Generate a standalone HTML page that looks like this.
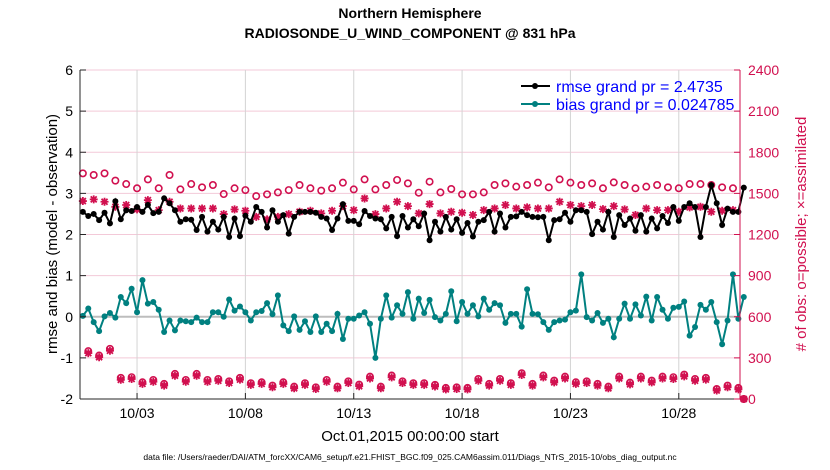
<!DOCTYPE html>
<html><head><meta charset="utf-8"><style>
html,body{margin:0;padding:0;background:#fff;}
svg{display:block;font-family:"Liberation Sans",sans-serif;}
</style></head><body>
<svg id="chart" width="830" height="470" viewBox="0 0 830 470">
<g id="grid"></g>
<g id="series"></g>
<g id="axes"></g>
<text x="410" y="18" text-anchor="middle" font-size="14" font-weight="bold">Northern Hemisphere</text>
<text x="410" y="38" text-anchor="middle" font-size="14" font-weight="bold">RADIOSONDE_U_WIND_COMPONENT @ 831 hPa</text>
<text x="410" y="441" text-anchor="middle" font-size="15">Oct.01,2015 00:00:00 start</text>
<text x="410" y="460" text-anchor="middle" font-size="8.5">data file: /Users/raeder/DAI/ATM_forcXX/CAM6_setup/f.e21.FHIST_BGC.f09_025.CAM6assim.011/Diags_NTrS_2015-10/obs_diag_output.nc</text>
<text transform="translate(57,234) rotate(-90)" text-anchor="middle" font-size="15">rmse and bias (model - observation)</text>
<text transform="translate(806,234) rotate(-90)" text-anchor="middle" font-size="15" fill="#d1104f"># of obs: o=possible; ×=assimilated</text>
<g>
<g><line x1="521" y1="86" x2="550" y2="86" stroke="#000" stroke-width="2"/><circle cx="535" cy="86" r="3" fill="#000"/><text x="556" y="92" font-size="16" fill="#0000ff">rmse grand pr = 2.4735</text></g>
<g><line x1="521" y1="104" x2="550" y2="104" stroke="#008080" stroke-width="2"/><circle cx="535" cy="104" r="3" fill="#008080"/><text x="556" y="110" font-size="16" fill="#0000ff">bias grand pr = 0.024785</text></g>
</g>
</svg>
<script>
const leftTicks=[-2,-1,0,1,2,3,4,5,6];
const rightTicks=[0,300,600,900,1200,1500,1800,2100,2400];
const dayTicks=[2,7,12,17,22,27];
const dayLabels=["10/03","10/08","10/13","10/18","10/23","10/28"];
const rmse=[2.55,2.45,2.50,2.35,2.53,2.27,2.81,2.37,2.59,2.57,2.67,2.55,2.72,2.52,2.55,2.88,2.76,2.59,2.31,2.37,2.36,2.11,2.43,2.07,2.31,2.12,2.43,1.94,2.39,1.96,2.46,
2.31,2.67,2.55,2.17,2.59,2.31,2.47,2.02,2.43,2.55,2.55,2.55,2.53,2.43,2.39,2.11,2.39,2.74,2.33,2.33,2.25,2.57,2.45,2.39,2.37,2.15,2.43,1.96,2.45,2.17,
2.37,2.20,2.51,1.86,2.31,2.07,2.43,2.12,2.37,2.04,2.28,1.95,2.31,2.35,2.55,2.07,2.51,2.17,2.43,2.44,2.55,2.47,2.43,2.42,2.43,1.86,2.35,2.37,2.53,2.31,2.59,
2.59,2.55,2.01,2.31,2.12,2.55,1.94,2.47,2.23,2.39,2.09,2.47,2.07,2.39,2.15,2.45,2.28,2.67,2.33,2.67,2.76,2.67,1.94,2.67,3.2,2.76,2.23,2.63,2.55,2.55,3.14];
const bias=[0.02,0.20,-0.13,-0.35,0.01,0.09,-0.02,0.48,0.33,0.68,0.11,0.89,0.32,0.36,0.17,-0.37,-0.09,-0.33,-0.09,-0.11,-0.13,-0.02,-0.13,-0.13,0.11,0.11,0.0,0.42,0.15,0.25,0.11,
-0.09,0.11,0.14,0.33,0.06,0.52,-0.21,-0.35,0.01,-0.32,-0.11,-0.37,0.01,-0.37,-0.17,-0.35,0.07,-0.54,-0.05,-0.05,0.03,0.11,-0.17,-1.0,-0.05,0.52,-0.02,0.28,0.07,0.60,
-0.05,0.44,0.09,0.41,-0.01,-0.09,0.07,0.62,-0.11,0.36,0.07,0.28,0.01,0.44,0.17,0.33,0.28,-0.15,0.07,0.07,-0.24,0.67,0.07,0.06,-0.13,-0.32,-0.13,-0.09,-0.07,0.11,0.15,
1.03,-0.01,-0.09,0.09,-0.15,-0.05,-0.50,-0.05,0.32,-0.05,0.30,0.03,0.49,-0.09,0.48,0.17,-0.05,0.22,0.24,0.37,-0.46,-0.25,0.29,0.17,0.36,-0.13,-0.67,-0.09,1.03,-0.05,0.48];
const possibleMain=[1646,1634,1646,1593,1568,1537,1602,1537,1634,1529,1568,1544,1561,1495,1537,1524,1480,1493,1507,1524,1561,1537,1520,1537,1578,1529,1602,1529,1561,1598,1573,1505,1585,1507,1532,1493,1493,1507,1561,1573,1549,1561,1578,1544,1602,1578,1561,1573,1537,1580,1561,1537,1549,1561,1544,1537,1568,1568,1561,1544,1537,0];
const possibleOff=[349,317,366,154,159,122,139,110,183,139,183,139,146,129,154,115,122,98,122,90,115,85,139,90,129,105,163,90,171,129,115,115,103,81,85,81,146,110,146,115,188,110,171,134,163,122,129,110,90,163,119,163,134,163,159,178,146,154,73,98,81];
const assimMain=[1444,1456,1439,1402,1415,1383,1451,1378,1439,1390,1390,1390,1390,1349,1383,1373,1329,1310,1329,1349,1366,1373,1354,1373,1407,1378,1463,1349,1390,1439,1407,1354,1422,1354,1366,1359,1342,1378,1390,1415,1390,1398,1390,1390,1439,1415,1407,1415,1385,1407,1383,1342,1390,1378,1378,1366,1398,1402,1366,1373,1378,0];
const assimOff=[335,305,352,140,146,110,126,98,170,126,170,126,133,117,141,103,110,86,110,78,103,73,126,78,117,93,150,78,158,117,103,103,91,70,73,70,133,98,133,103,175,98,158,121,150,110,117,98,78,150,107,150,121,150,146,165,133,141,62,86,70];

const NS='http://www.w3.org/2000/svg';
const L=80,R=740,T=70,B=399;
const yL=v=>B-(v+2)/8*(B-T);
const yR=v=>B-v/2400*(B-T);
const xD=d=>93.7+d*21.67;
const xI=i=>xD(-0.5+0.25*i);
const red='#d1104f';
function mk(tag,attrs,parent){const e=document.createElementNS(NS,tag);for(const k in attrs)e.setAttribute(k,attrs[k]);parent.appendChild(e);return e;}
const grid=document.getElementById('grid'),ser=document.getElementById('series'),ax=document.getElementById('axes');
rightTicks.forEach(t=>{const l=mk('line',{x1:L,x2:R,y1:yR(t),y2:yR(t),stroke:'#f3c9d8','stroke-width':1},grid);

});
dayTicks.forEach((d,k)=>{const l=mk('line',{x1:xD(d),x2:xD(d),y1:T,y2:B,stroke:'#d4d4d4','stroke-width':1},grid);


mk('line',{x1:xD(d),x2:xD(d),y1:B,y2:B-6,stroke:'#262626'},ax);
const t=mk('text',{x:xD(d),y:B+19,'text-anchor':'middle','font-size':14},ax);t.textContent=dayLabels[k];

});
const z=mk('line',{x1:L,x2:R,y1:yL(0),y2:yL(0),stroke:'#bdbdbd','stroke-width':2},grid);


function obsAt(main,off){const out=[];main.forEach((v,k)=>out.push([2*k,v]));off.forEach((v,k)=>out.push([2*k+1,v]));return out;}
obsAt(possibleMain,possibleOff).forEach(([i,v])=>{const c=mk('circle',{cx:xI(i),cy:yR(v),r:3.2,fill:'none',stroke:red,'stroke-width':1.6},ser);

});
obsAt(assimMain,assimOff).forEach(([i,v])=>{const x=xI(i),y=yR(v),s=4;const g=mk('path',{d:`M${x-s} ${y}H${x+s}M${x} ${y-s}V${y+s}M${x-3} ${y-3}L${x+3} ${y+3}M${x-3} ${y+3}L${x+3} ${y-3}`,stroke:red,'stroke-width':1.8},ser);

});
function line(vals,color,name){const p=mk('polyline',{points:vals.map((v,i)=>xI(i)+','+yL(v)).join(' '),fill:'none',stroke:color,'stroke-width':2},ser);


vals.forEach((v,i)=>{const c=mk('circle',{cx:xI(i),cy:yL(v),r:3,fill:color},ser);

});}
line(rmse,'#000','rmse');
line(bias,'#008080','bias');
mk('line',{x1:L,x2:L,y1:T,y2:B,stroke:'#262626'},ax);
mk('line',{x1:L,x2:R,y1:B,y2:B,stroke:'#262626'},ax);
mk('line',{x1:R,x2:R,y1:T,y2:B,stroke:red},ax);
leftTicks.forEach(t=>{mk('line',{x1:L,x2:L+6,y1:yL(t),y2:yL(t),stroke:'#262626'},ax);
const tx=mk('text',{x:L-7,y:yL(t)+5,'text-anchor':'end','font-size':14},ax);tx.textContent=t;

});
rightTicks.forEach(t=>{mk('line',{x1:R-6,x2:R,y1:yR(t),y2:yR(t),stroke:red},ax);
const tx=mk('text',{x:R+8,y:yR(t)+5,'font-size':14,fill:red},ax);tx.textContent=t;

});
</script>
</body></html>
